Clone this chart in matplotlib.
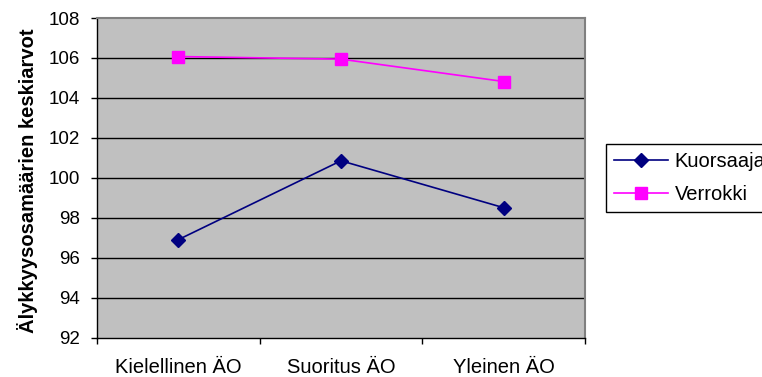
import matplotlib
matplotlib.use("Agg")
import matplotlib.pyplot as plt
from matplotlib.ticker import FixedLocator, NullFormatter, FixedFormatter

plt.rcParams["font.family"] = ["Liberation Sans", "DejaVu Sans"]

# Data
categories = ["Kielellinen ÄO", "Suoritus ÄO", "Yleinen ÄO"]
kuorsaajat = [96.9, 100.85, 98.5]
verrokki = [106.07, 105.94, 104.82]
y_ticks = [92, 94, 96, 98, 100, 102, 104, 106, 108]

fig = plt.figure(figsize=(7.62, 3.77), dpi=100)
ax = fig.add_axes([97 / 762, 1 - 337.5 / 377, 488 / 762, 319.5 / 377])
ax.set_facecolor("#C0C0C0")

xpos = [i + 0.5 for i in range(len(categories))]

# Horizontal gridlines
for y in y_ticks[1:-1]:
    ax.axhline(y, color="black", linewidth=1, zorder=1)

ax.plot(xpos, kuorsaajat, color="#000080", linewidth=1.2, marker="D",
        markersize=7.5, markerfacecolor="#000080", markeredgecolor="#000080",
        label="Kuorsaajat", zorder=3)
ax.plot(xpos, verrokki, color="#FF00FF", linewidth=1.2, marker="s",
        markersize=9, markerfacecolor="#FF00FF", markeredgecolor="#FF00FF",
        label="Verrokki", zorder=3)

ax.set_xlim(0, len(categories))
ax.set_ylim(92, 108)
ax.set_yticks(y_ticks)
ax.tick_params(axis="y", direction="out", length=4, width=1, pad=8,
               labelsize=13.5, color="black")

# category boundaries as major ticks, labels centred on minor ticks
ax.xaxis.set_major_locator(FixedLocator(range(len(categories) + 1)))
ax.xaxis.set_major_formatter(NullFormatter())
ax.xaxis.set_minor_locator(FixedLocator(xpos))
ax.xaxis.set_minor_formatter(FixedFormatter(categories))
ax.tick_params(axis="x", which="major", direction="out", length=4, width=1)
ax.tick_params(axis="x", which="minor", length=0, pad=15, labelsize=14.5)

for side in ["left", "bottom"]:
    ax.spines[side].set_color("black")
    ax.spines[side].set_linewidth(1)
for side in ["top", "right"]:
    ax.spines[side].set_color("#808080")
    ax.spines[side].set_linewidth(1.5)

ax.set_ylabel("Älykkyysosamäärien keskiarvot", fontsize=14.5, fontweight="bold")
ax.yaxis.set_label_coords(-0.121, 0.49)

# legend runs off the right edge, as in the original
leg = ax.legend(loc="upper left", bbox_to_anchor=(606 / 762, 1 - 144 / 377),
                bbox_transform=fig.transFigure, borderaxespad=0,
                fontsize=14.5, frameon=True, fancybox=False, framealpha=1,
                edgecolor="black", handlelength=2.7, handletextpad=0.3,
                labelspacing=0.7, borderpad=0.4)
leg.get_frame().set_linewidth(1)

fig.savefig("out.png", dpi=100)
